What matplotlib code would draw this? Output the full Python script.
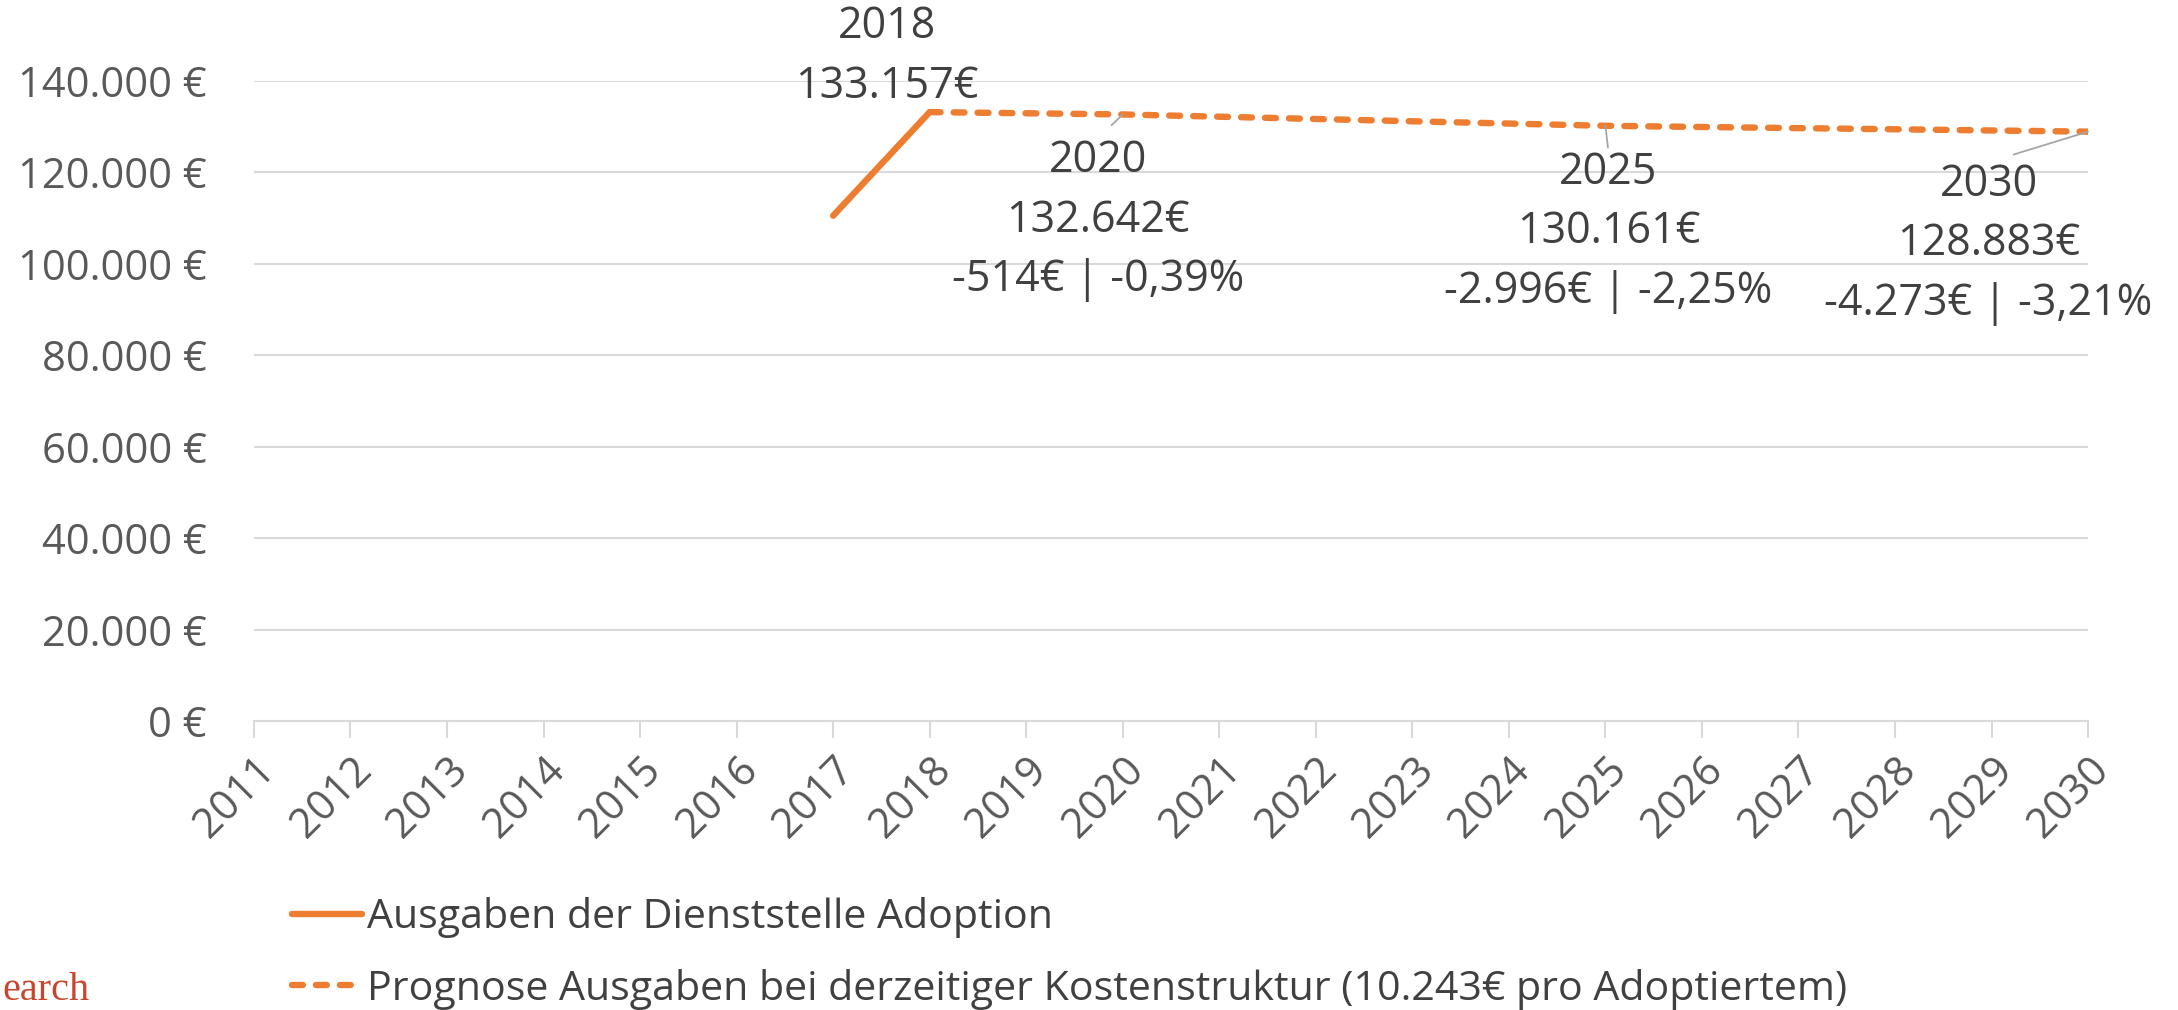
import matplotlib.pyplot as plt
from matplotlib.ticker import FuncFormatter

plt.rcParams['font.family'] = ['Open Sans', 'DejaVu Sans']

# Jahreswerte
years = list(range(2011, 2031))
ist_years = [2017, 2018]
ist_values = [110500, 133157]
prog_years = list(range(2018, 2031))
prog_values = [133157, 132900, 132642, 132150, 131650, 131150, 130650,
               130161, 129900, 129650, 129400, 129140, 128883]

label_years = [2020, 2025, 2030]
label_values = [132642, 130161, 128883]
label_diffs = ['-514€ | -0,39%', '-2.996€ | -2,25%', '-4.273€ | -3,21%']

legend_labels = ['Ausgaben der Dienststelle Adoption',
                 'Prognose Ausgaben bei derzeitiger Kostenstruktur (10.243€ pro Adoptiertem)']

orange = '#ED7D31'
grid_c = '#D9D9D9'
text_c = '#404040'
tick_c = '#595959'
fs = 30
fs_lab = 31


def euro(v):
    return f'{int(v):,}'.replace(',', '.')


fig = plt.figure(figsize=(21.78, 10.10), dpi=100)
ax = fig.add_axes([0.1166, 0.2861, 0.8421, 0.6339])

l1, = ax.plot(ist_years, ist_values, color=orange, lw=4.6, solid_capstyle='round')
l2, = ax.plot(prog_years, prog_values, color=orange, lw=4.6,
              linestyle=(0, (1.7, 2.05)), dash_capstyle='round')

ax.set_xlim(2011, 2030)
ax.set_ylim(0, 140000)
ax.set_yticks(range(0, 140001, 20000))
ax.yaxis.set_major_formatter(FuncFormatter(lambda v, p: euro(v) + ' €'))
ax.set_xticks(years)
ax.set_xticklabels([str(y) for y in years], rotation=45, ha='right',
                   rotation_mode='anchor')

ax.grid(axis='y', color=grid_c, lw=1.5)
ax.set_axisbelow(True)
for s in ['top', 'right', 'left']:
    ax.spines[s].set_visible(False)
ax.spines['bottom'].set_color(grid_c)
ax.spines['bottom'].set_linewidth(1.5)
ax.tick_params(axis='y', length=0, pad=34, labelsize=fs, labelcolor=tick_c)
ax.tick_params(axis='x', length=12, width=1.5, color=grid_c, pad=8,
               labelsize=fs, labelcolor=tick_c)

# Datenbeschriftungen
ax.text(2017.56, 145300, f'2018\n{euro(ist_values[1])}€', ha='center', va='center',
        fontsize=fs_lab, color=text_c, linespacing=1.45)

label_pos = [(2019.74, 109500), (2025.03, 106900), (2028.97, 104300)]
shrinks = [11, 19, 12]
for yr, val, diff, pos, sh in zip(label_years, label_values, label_diffs, label_pos, shrinks):
    txt = f'{yr}\n{euro(val)}€\n{diff}'
    ax.annotate(txt, xy=(yr, val), xytext=pos, textcoords='data',
                ha='center', va='center', fontsize=fs_lab, color=text_c,
                linespacing=1.45, annotation_clip=False,
                arrowprops=dict(arrowstyle='-', color='#A6A6A6', lw=1.3,
                                relpos=(0.5, 1.0), shrinkA=sh, shrinkB=0))

fig.legend([l1, l2], legend_labels, loc='center left',
           bbox_to_anchor=(0.134, 0.056), bbox_transform=fig.transFigure,
           frameon=False, fontsize=29.6, labelcolor=text_c, handlelength=1.7,
           handletextpad=0.12, labelspacing=0.75, borderaxespad=0,
           borderpad=0)

fig.text(0.001, 0.001, 'earch', ha='left', va='bottom',
         family='Liberation Serif', fontsize=29, color='#C8462C')

fig.savefig('out.png', dpi=100)
